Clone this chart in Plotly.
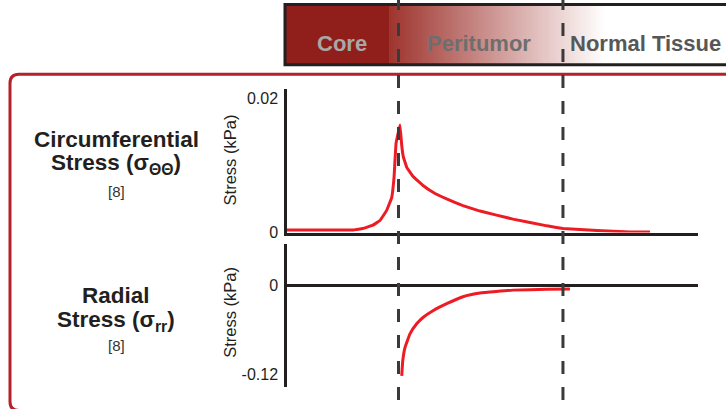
import plotly.graph_objects as go

# ---------------- data (radius normalised to tumour radius) ----------------
circ_r = [0.0, 0.40, 0.60, 0.68, 0.77, 0.834, 0.894, 0.939, 0.96, 0.978, 1.013,
          1.029, 1.043, 1.074, 1.133, 1.22, 1.309, 1.432, 1.578, 1.731,
          2.027, 2.332, 2.475, 2.78, 3.076, 3.256]
circ_stress = [0.0004, 0.0004, 0.0004, 0.0006, 0.0011, 0.0018, 0.0033, 0.0052, 0.0082, 0.0133, 0.0160,
               0.0130, 0.0113, 0.0097, 0.0083, 0.0070, 0.0060, 0.0050, 0.0040, 0.0032,
               0.0020, 0.0010, 0.0006, 0.0003, 0.0001, 0.0001]

rad_r = [1.029, 1.038, 1.058, 1.103, 1.163, 1.22, 1.309, 1.432, 1.578, 1.731,
         2.027, 2.332, 2.538]
rad_stress = [-0.1227, -0.1023, -0.0841, -0.0655, -0.0518, -0.0432, -0.0341, -0.0245,
              -0.0150, -0.0100, -0.0060, -0.0048, -0.0045]

boundaries = [1.0, 2.475]          # core | peritumor | normal tissue
regions = ["Core", "Peritumor", "Normal Tissue"]
circ_ticks = [0, 0.02]
circ_ticktext = ["0", "0.02"]
rad_ticks = [0, -0.12]
rad_ticktext = ["0", "-0.12"]

# ---------------- layout helpers ----------------
W, H = 726, 419          # figure size
HREF = 409               # reference picture height used for placement
def px(x):
    return x / W
def py(y):
    return 1 - y / HREF

FONT = "Liberation Sans, Arial, sans-serif"
INK = "#231f20"
RED = "#ed1c24"

fig = go.Figure()
fig.add_trace(go.Scatter(x=circ_r, y=circ_stress, mode="lines", xaxis="x", yaxis="y",
                         line=dict(color=RED, width=3, shape="spline", smoothing=0.15),
                         showlegend=False, hoverinfo="skip"))
fig.add_trace(go.Scatter(x=rad_r, y=rad_stress, mode="lines", xaxis="x2", yaxis="y2",
                         line=dict(color=RED, width=3, shape="spline", smoothing=0.3),
                         showlegend=False, hoverinfo="skip"))

xr = [0, (698 - 287) / 111.5]
shapes = []

# banner gradient (style only)
def banner_color(x):
    if x < 389:
        return (144, 31, 27)
    if x > 605:
        return (255, 255, 255)
    f = (x - 389) / (605 - 389)
    c0 = (158, 52, 46)
    return tuple(round(c0[i] + (255 - c0[i]) * f) for i in range(3))

x = 285
while x < 730:
    c = banner_color(x + 1)
    shapes.append(dict(type="rect", xref="paper", yref="paper",
                       x0=px(x), x1=px(x + 2.3), y0=py(64), y1=py(5),
                       line=dict(width=0), fillcolor="rgb(%d,%d,%d)" % c, layer="below"))
    x += 2
shapes.append(dict(type="rect", xref="paper", yref="paper",
                   x0=px(285), x1=px(740), y0=py(64.5), y1=py(4.5),
                   line=dict(color=INK, width=3), fillcolor="rgba(0,0,0,0)"))

# red rounded frame
r = 9
x0, x1, y0, y1 = 10, 760, 74, 409.5
path = (f"M {px(x1)},{py(y0)} L {px(x0 + r)},{py(y0)} "
        f"Q {px(x0)},{py(y0)} {px(x0)},{py(y0 + r)} "
        f"L {px(x0)},{py(y1 - r)} Q {px(x0)},{py(y1)} {px(x0 + r)},{py(y1)} "
        f"L {px(x1)},{py(y1)}")
shapes.append(dict(type="path", xref="paper", yref="paper", path=path,
                   line=dict(color="#b3212a", width=3)))

# dashed region boundaries
for b in boundaries:
    shapes.append(dict(type="line", xref="x", yref="paper", x0=b, x1=b, y0=py(425), y1=py(0),
                       line=dict(color="#3a3a3a", width=3, dash="13px,13px")))

annotations = []
region_x = [342, 479, 645]
region_col = ["#a8a8a8", "#6e6e6e", "#575757"]
for name, rx, col in zip(regions, region_x, region_col):
    annotations.append(dict(text="<b>%s</b>" % name, x=px(rx), y=py(43.5), xref="paper",
                            yref="paper", showarrow=False, xanchor="center", yanchor="middle",
                            font=dict(family=FONT, size=22, color=col)))

def left_label(lines, ys):
    for (txt, size, bold, col), yy in zip(lines, ys):
        annotations.append(dict(text=("<b>%s</b>" % txt) if bold else txt, x=px(116), y=py(yy),
                                xref="paper", yref="paper", showarrow=False,
                                xanchor="center", yanchor="middle",
                                font=dict(family=FONT, size=size, color=col)))

left_label([("Circumferential", 22.5, True, INK),
            ("Stress (σ<sub>ΘΘ</sub>)", 22.5, True, INK),
            ("[8]", 15, False, "#333333")], [139, 164, 191])
left_label([("Radial", 22.5, True, INK),
            ("Stress (σ<sub>rr</sub>)", 22.5, True, INK),
            ("[8]", 15, False, "#333333")], [295, 320, 345])

for yy in (160, 312):
    annotations.append(dict(text="Stress (kPa)", x=px(230), y=py(yy), xref="paper",
                            yref="paper", showarrow=False, textangle=-90,
                            xanchor="center", yanchor="middle",
                            font=dict(family=FONT, size=16.5, color=INK)))

fig.update_layout(
    width=W, height=H, autosize=False, margin=dict(l=0, r=0, t=0, b=0),
    paper_bgcolor="white", plot_bgcolor="rgba(0,0,0,0)",
    shapes=shapes, annotations=annotations,
    font=dict(family=FONT, color=INK),
    xaxis=dict(domain=[px(287), px(698)], range=xr, anchor="y", showgrid=False,
               zeroline=False, showticklabels=False, ticks="", showline=True,
               linecolor=INK, linewidth=2.5, layer="below traces"),
    yaxis=dict(domain=[py(232), py(89)], range=[0, 0.02134], anchor="x", showgrid=False,
               zeroline=False, tickvals=circ_ticks, ticktext=circ_ticktext, ticks="",
               showline=True, linecolor=INK, linewidth=2.5, ticklabelstandoff=3,
               tickfont=dict(family=FONT, size=16, color=INK), layer="below traces"),
    xaxis2=dict(domain=[px(287), px(698)], range=xr, anchor="y2", visible=False),
    yaxis2=dict(domain=[py(386), py(243)], range=[-0.1377, 0.0573], anchor="x2",
                showgrid=False, zeroline=True, zerolinecolor=INK, zerolinewidth=2.5,
                tickvals=rad_ticks, ticktext=rad_ticktext, ticks="", showline=True,
                linecolor=INK, linewidth=2.5, ticklabelstandoff=3,
                tickfont=dict(family=FONT, size=16, color=INK)),
)

fig.write_html("out.html",
               config={"responsive": False, "displayModeBar": False},
               post_script="document.body.style.margin='0';document.body.style.overflow='hidden';")
